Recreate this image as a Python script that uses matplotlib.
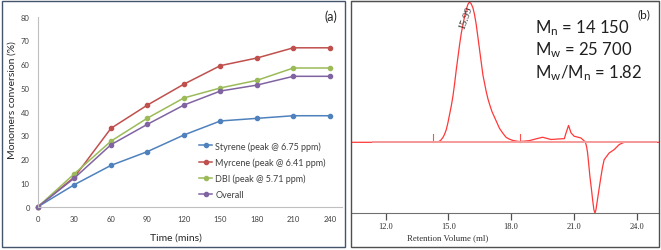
import matplotlib
matplotlib.use('Agg')
import matplotlib.pyplot as plt
from matplotlib.patches import Rectangle

plt.rcParams['font.family'] = ['Lato', 'DejaVu Sans']
plt.rcParams['mathtext.fontset'] = 'custom'
plt.rcParams['mathtext.rm'] = 'Lato'
plt.rcParams['mathtext.default'] = 'regular'

# (a) monomer conversion
time = [0, 30, 60, 90, 120, 150, 180, 210, 240]
styrene = [0, 9.3, 17.4, 23.2, 30.2, 36.1, 37.2, 38.3, 38.3]
myrcene = [0, 12.5, 33.0, 42.8, 51.6, 59.4, 62.6, 66.9, 66.9]
dbi = [0, 13.9, 27.6, 37.3, 45.8, 50.0, 53.2, 58.4, 58.4]
overall = [0, 12.1, 26.1, 34.7, 42.8, 48.7, 51.2, 54.9, 54.9]
labels = ['Styrene (peak @ 6.75 ppm)', 'Myrcene (peak @ 6.41 ppm)',
          'DBI (peak @ 5.71 ppm)', 'Overall']
colors = ['#4F81BD', '#C0504D', '#9BBB59', '#8064A2']

# (b) GPC trace
vol = [10.35, 11.4, 14.3, 14.5, 14.62, 14.74, 14.82, 14.9, 14.98, 15.06, 15.14,
       15.22, 15.3, 15.38, 15.46, 15.54, 15.62, 15.7, 15.78, 15.86, 15.94,
       16.01, 16.08, 16.17, 16.25, 16.33, 16.41, 16.49, 16.57, 16.65, 16.73,
       16.81, 16.89, 16.97, 17.08, 17.2, 17.32, 17.44, 17.6, 17.76, 17.92,
       18.08, 18.4, 18.87, 19.2, 19.5, 19.9, 20.3, 20.54, 20.62, 20.74,
       20.86, 21.01, 21.33, 21.54, 21.6, 21.65, 21.7, 21.76, 21.83, 21.89,
       21.95, 22.0, 22.05, 22.12, 22.2, 22.29, 22.36, 22.44, 22.68, 22.92,
       23.16, 23.39, 25.06]
signal = [0, 0, 0, 0.003, 0.012, 0.034, 0.058, 0.09, 0.14, 0.2, 0.26,
          0.33, 0.42, 0.52, 0.61, 0.7, 0.78, 0.84, 0.9, 0.95, 0.985,
          1.0, 0.99, 0.96, 0.91, 0.84, 0.75, 0.66, 0.57, 0.48, 0.42,
          0.36, 0.31, 0.27, 0.22, 0.18, 0.14, 0.1, 0.065, 0.035, 0.022,
          0.013, 0.005, 0.012, 0.025, 0.036, 0.02, 0.024, 0.026, 0.067, 0.12,
          0.067, 0.043, 0.031, 0.003, -0.03, -0.076, -0.15, -0.243, -0.33, -0.41,
          -0.48, -0.505, -0.48, -0.41, -0.33, -0.243, -0.18, -0.124, -0.076, -0.052,
          -0.016, 0, 0]
marks = [14.25, 18.4]
peak_label = '15.99'
stats = ['M$_{n}$ = 14 150', 'M$_{w}$ = 25 700', 'M$_{w}$/M$_{n}$ = 1.82']

W, H = 661, 251
fig = plt.figure(figsize=(W / 100, H / 100), dpi=100)

def fx(px):
    return px / W

def fy(py):
    return 1 - py / H

# panel frames
fig.patches.append(Rectangle((fx(2), fy(248)), fx(343), 246 / H, transform=fig.transFigure,
                             fill=False, edgecolor='#44546A', lw=1.0))
fig.patches.append(Rectangle((fx(351), fy(248)), fx(308), 246 / H, transform=fig.transFigure,
                             fill=False, edgecolor='#505050', lw=1.0))

# ---- panel (a)
ax = fig.add_axes([fx(38), fy(207.7), fx(342 - 38), (207.7 - 17.7) / H])
for y, lab, c in zip([styrene, myrcene, dbi, overall], labels, colors):
    ax.plot(time, y, '-o', color=c, lw=1.1, ms=3, label=lab, clip_on=False)
ax.set_xlim(0, 250)
ax.set_ylim(0, 80)
ax.set_xticks(range(0, 241, 30))
ax.set_yticks(range(0, 81, 10))
for s in ['top', 'right']:
    ax.spines[s].set_visible(False)
for s in ['left', 'bottom']:
    ax.spines[s].set_color('#BFBFBF')
    ax.spines[s].set_linewidth(0.8)
ax.tick_params(length=0, labelsize=5.5, labelcolor='#404040')
ax.tick_params(axis='y', pad=6)
ax.tick_params(axis='x', pad=6)
fig.text(fx(12.5), fy(100.5), 'Monomers conversion (%)', rotation=90,
         ha='center', va='center', fontsize=7.5, color='#262626')
fig.text(fx(176), fy(238), 'Time (mins)', ha='center', va='center',
         fontsize=7.5, color='#262626')
fig.text(fx(331), fy(17), '(a)', ha='center', va='center', fontsize=9, color='#262626')
ax.legend(loc='upper left', bbox_to_anchor=(fx(199), fy(142)), bbox_transform=fig.transFigure,
          frameon=False, fontsize=6.5, handlelength=1.45, handletextpad=0.35,
          labelspacing=0.75, borderpad=0, borderaxespad=0, labelcolor='#404040')

# ---- panel (b)
bx = fig.add_axes([fx(351), fy(214.3), fx(308), (214.3 - 2) / H])
bx.plot(vol, signal, color='#FF3838', lw=0.9)
bx.plot([11.4, 24.9], [0, 0], color='#F59A9A', lw=1.4, zorder=3)
for m in marks:
    bx.plot([m, m], [0, 0.06], color='#FF5050', lw=0.8)
bx.set_xlim(10.35, 25.06)
bx.set_ylim(-0.506, 1.007)
bx.set_yticks([])
bx.set_xticks([12, 15, 18, 21, 24])
bx.set_xticklabels(['12.0', '15.0', '18.0', '21.0', '24.0'], family='Liberation Serif',
                   fontsize=6)
bx.tick_params(axis='x', direction='out', length=5, width=0.9, color='#505050',
               pad=1.5, labelcolor='#303030')
for s in ['left', 'right']:
    bx.spines[s].set_visible(False)
bx.spines['bottom'].set_color('#707070')
bx.spines['top'].set_color('#505050')
bx.text(15.85, 0.89, peak_label, rotation=70, ha='center', va='center',
        family='Liberation Serif', fontsize=7.5, color='#303030')
fig.text(fx(448), fy(238.5), 'Retention Volume (ml)', ha='center', va='center',
         family='Liberation Serif', fontsize=6.3, color='#303030')
fig.text(fx(644), fy(15), '(b)', ha='center', va='center', fontsize=8.5, color='#202020')
for i, s in enumerate(stats):
    fig.text(fx(535), fy(28 + 22.5 * i), s, ha='left', va='center', fontsize=12,
             color='#202020')

fig.savefig('out.png', dpi=100)
